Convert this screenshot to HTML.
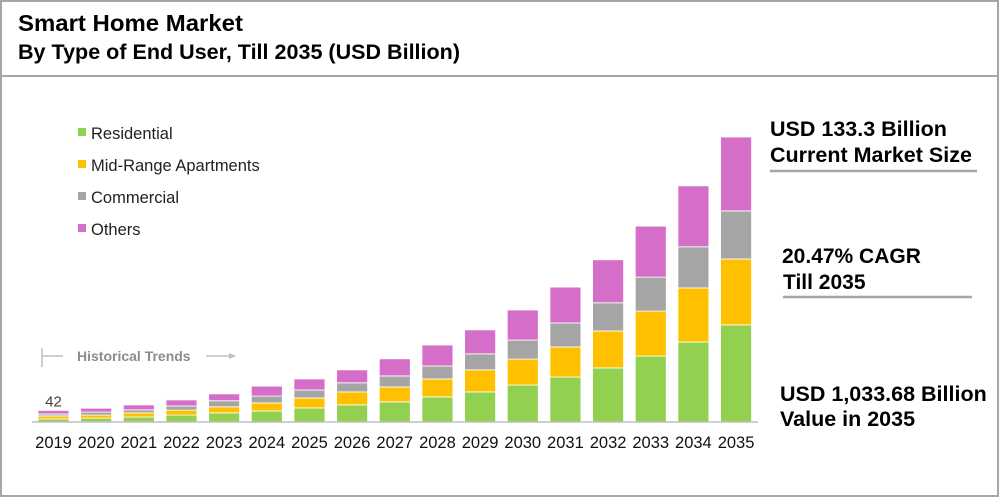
<!DOCTYPE html>
<html><head><meta charset="utf-8"><style>
body{margin:0;background:#fff}
svg{display:block;font-family:"Liberation Sans",Arial,sans-serif}
</style></head><body>
<svg id="chart" width="1000" height="498" viewBox="0 0 1000 498" xmlns="http://www.w3.org/2000/svg">
<rect x="1" y="1" width="997" height="495" fill="#fff" stroke="#a6a6a6" stroke-width="2"/>
<line x1="1" y1="76" x2="998" y2="76" stroke="#a6a6a6" stroke-width="2"/>
<text x="18" y="31" font-size="23" font-weight="bold" fill="#000" textLength="225" lengthAdjust="spacingAndGlyphs">Smart Home Market</text>
<text x="18" y="59" font-size="21" font-weight="bold" fill="#000" textLength="442" lengthAdjust="spacingAndGlyphs">By Type of End User, Till 2035 (USD Billion)</text>

<g>
<rect x="78" y="128" width="8" height="8" fill="#92d050"/>
<text x="91" y="139" font-size="16.5" fill="#222">Residential</text>
<rect x="78" y="160" width="8" height="8" fill="#ffc000"/>
<text x="91" y="171" font-size="16.5" fill="#222">Mid-Range Apartments</text>
<rect x="78" y="192" width="8" height="8" fill="#a5a5a5"/>
<text x="91" y="203" font-size="16.5" fill="#222">Commercial</text>
<rect x="78" y="224" width="8" height="8" fill="#d56ec8"/>
<text x="91" y="235" font-size="16.5" fill="#222">Others</text>
</g>

<g>
<line x1="42" y1="348" x2="42" y2="367" stroke="#bfbfbf" stroke-width="1.5"/>
<line x1="42" y1="356" x2="63" y2="356" stroke="#bfbfbf" stroke-width="1.5"/>
<text x="77" y="361" font-size="14" font-weight="bold" fill="#8c8c8c">Historical Trends</text>
<line x1="206" y1="356" x2="234" y2="356" stroke="#bfbfbf" stroke-width="1.5"/>
<polygon points="236,356 229,353 229,359" fill="#bfbfbf"/>
</g>

<g id="bars"></g>
<line x1="32" y1="422" x2="758" y2="422" stroke="#bfbfbf" stroke-width="1.5"/>
<g id="xlabels"></g>

<g>
<text x="770" y="136" font-size="21.5" font-weight="bold" fill="#000">USD 133.3 Billion</text>
<text x="770" y="162" font-size="21.5" font-weight="bold" fill="#000">Current Market Size</text>
<line x1="770" y1="171" x2="977" y2="171" stroke="#a6a6a6" stroke-width="2.5"/>
<text x="782" y="263" font-size="21" font-weight="bold" fill="#000">20.47%  CAGR</text>
<text x="783" y="289" font-size="21" font-weight="bold" fill="#000">Till 2035</text>
<line x1="783" y1="297" x2="972" y2="297" stroke="#a6a6a6" stroke-width="2.5"/>
<text x="780" y="401" font-size="21.5" font-weight="bold" fill="#000">USD 1,033.68 Billion</text>
<text x="780" y="426" font-size="21.5" font-weight="bold" fill="#000">Value in 2035</text>
</g>
</svg>
<script>
const years = ["2019","2020","2021","2022","2023","2024","2025","2026","2027","2028","2029","2030","2031","2032","2033","2034","2035"];
const residential = [11,14,18,25,33,40,51,62,73,91,109,134,163,196,239,290,352];
const midRange = [11,11,15,18,22,29,36,47,54,65,80,94,109,134,163,196,239];
const commercial = [7,11,11,15,22,25,29,33,40,47,58,69,87,102,123,149,174];
const others = [13,14,18,22,25,36,40,47,62,76,87,109,130,156,185,221,268];
const seriesColors = ["#92d050","#ffc000","#a5a5a5","#d56ec8"];
const seriesNames = ["residential","mid-range","commercial","others"];
const firstLabel = "42";

const baseY = 422, scale = 285/1033, x0 = 53.5, pitch = 42.66, barW = 31;
function xPos(i){return x0 + i*pitch;}
function yH(v){return v*scale;}
const NS = "http://www.w3.org/2000/svg";
const bars = document.getElementById("bars");
const xl = document.getElementById("xlabels");
const series = [residential, midRange, commercial, others];
years.forEach((yr,i)=>{
  let y = baseY;
  series.forEach((s,k)=>{
    const h = yH(s[i]);
    const r = document.createElementNS(NS,"rect");
    r.setAttribute("x", xPos(i)-barW/2);
    r.setAttribute("y", y-h);
    r.setAttribute("width", barW);
    r.setAttribute("height", h);
    r.setAttribute("fill", seriesColors[k]);
    r.setAttribute("stroke", "#fff");
    r.setAttribute("stroke-width", "0.8");
    
    
    bars.appendChild(r);
    y -= h;
  });
  if(i===0){
    const t = document.createElementNS(NS,"text");
    t.setAttribute("x", xPos(i)); t.setAttribute("y", y-4);
    t.setAttribute("text-anchor","middle"); t.setAttribute("font-size","15"); t.setAttribute("fill","#404040");
    t.textContent = firstLabel;
    
    
    bars.appendChild(t);
  }
  const t = document.createElementNS(NS,"text");
  t.setAttribute("x", xPos(i)); t.setAttribute("y", 448);
  t.setAttribute("text-anchor","middle"); t.setAttribute("font-size","16.5"); t.setAttribute("fill","#111");
  t.textContent = yr;
  
  
  xl.appendChild(t);
});
</script>
</body></html>
